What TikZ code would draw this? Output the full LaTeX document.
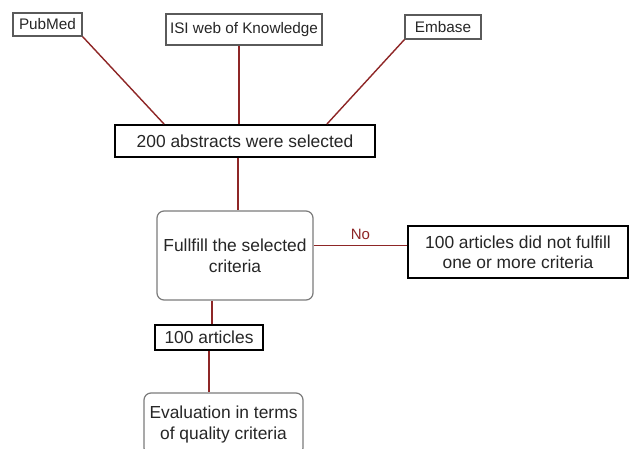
\documentclass[tikz,border=0pt]{standalone}
\usepackage{fontspec}
\setmainfont{Liberation Sans}
\usetikzlibrary{positioning}

\definecolor{linkred}{HTML}{8E2626}
\definecolor{boxgray}{HTML}{5A5A5A}
\definecolor{txt}{HTML}{262626}

\tikzset{
  srcbox/.style={draw=boxgray, line width=1.2pt, fill=white, inner sep=0pt,
    text=txt, font=\fontsize{15.3}{18}\selectfont},
  mainbox/.style={draw=black, line width=1.8pt, fill=white, inner sep=0pt,
    text=txt, font=\fontsize{17.4}{20}\selectfont},
  outbox/.style={draw=black, line width=1.3pt, fill=white, inner sep=0pt,
    align=center, text=txt, font=\fontsize{17.4}{20}\selectfont},
  roundbox/.style={draw=boxgray!80, line width=1.2pt, rounded corners=7pt,
    fill=white, inner sep=0pt, align=center, text=txt,
    font=\fontsize{17.4}{21}\selectfont},
  link/.style={draw=linkred, line width=1.4pt}
}

\begin{document}
\begin{tikzpicture}[x=1pt,y=-1pt]
\useasboundingbox[fill=white] (0,0) rectangle (629,449);

% sources
\node[srcbox, minimum width=69pt, minimum height=23pt] (pubmed) at (47.5,24.5) {PubMed};
\node[srcbox, minimum width=156pt, minimum height=31pt] (isi) at (244,29.5) {ISI web of Knowledge};
\node[srcbox, minimum width=76pt, minimum height=24pt] (embase) at (443,27) {Embase};

% selection
\node[mainbox, minimum width=260pt, minimum height=32pt] (sel) at (245,141) {200 abstracts were selected};
\node[roundbox, minimum width=156pt, minimum height=89pt] (ff) at (235,255.5) {Fullfill the selected\\criteria};
\node[outbox, minimum width=220pt, minimum height=52pt] (notok) at (518,252) {100 articles did not fulfill\\one or more criteria};
\node[mainbox, minimum width=108pt, minimum height=25pt] (art) at (209,337.5) {100 articles};
\node[roundbox, minimum width=159pt, minimum height=62pt] (eval) at (223.5,424) {Evaluation in terms\\of quality criteria};

% connectors
\draw[link] (pubmed.south east) -- ([xshift=50pt]sel.north west);
\draw[link] ([xshift=-5pt]isi.south) -- ([xshift=-5pt]isi.south |- sel.north);
\draw[link] (embase.south west) -- ([xshift=-49pt]sel.north east);
\draw[link] ([xshift=3pt]ff.north |- sel.south) -- ([xshift=3pt]ff.north);
\draw[link] ([yshift=10pt]ff.east) -- node[above=2pt, text=linkred, font=\fontsize{15}{18}\selectfont] (no) {No} ([yshift=10pt]ff.east -| notok.west);
\draw[link] ([xshift=3pt]art.north |- ff.south) -- ([xshift=3pt]art.north);
\draw[link] (art.south) -- (art.south |- eval.north);

\end{tikzpicture}
\end{document}
